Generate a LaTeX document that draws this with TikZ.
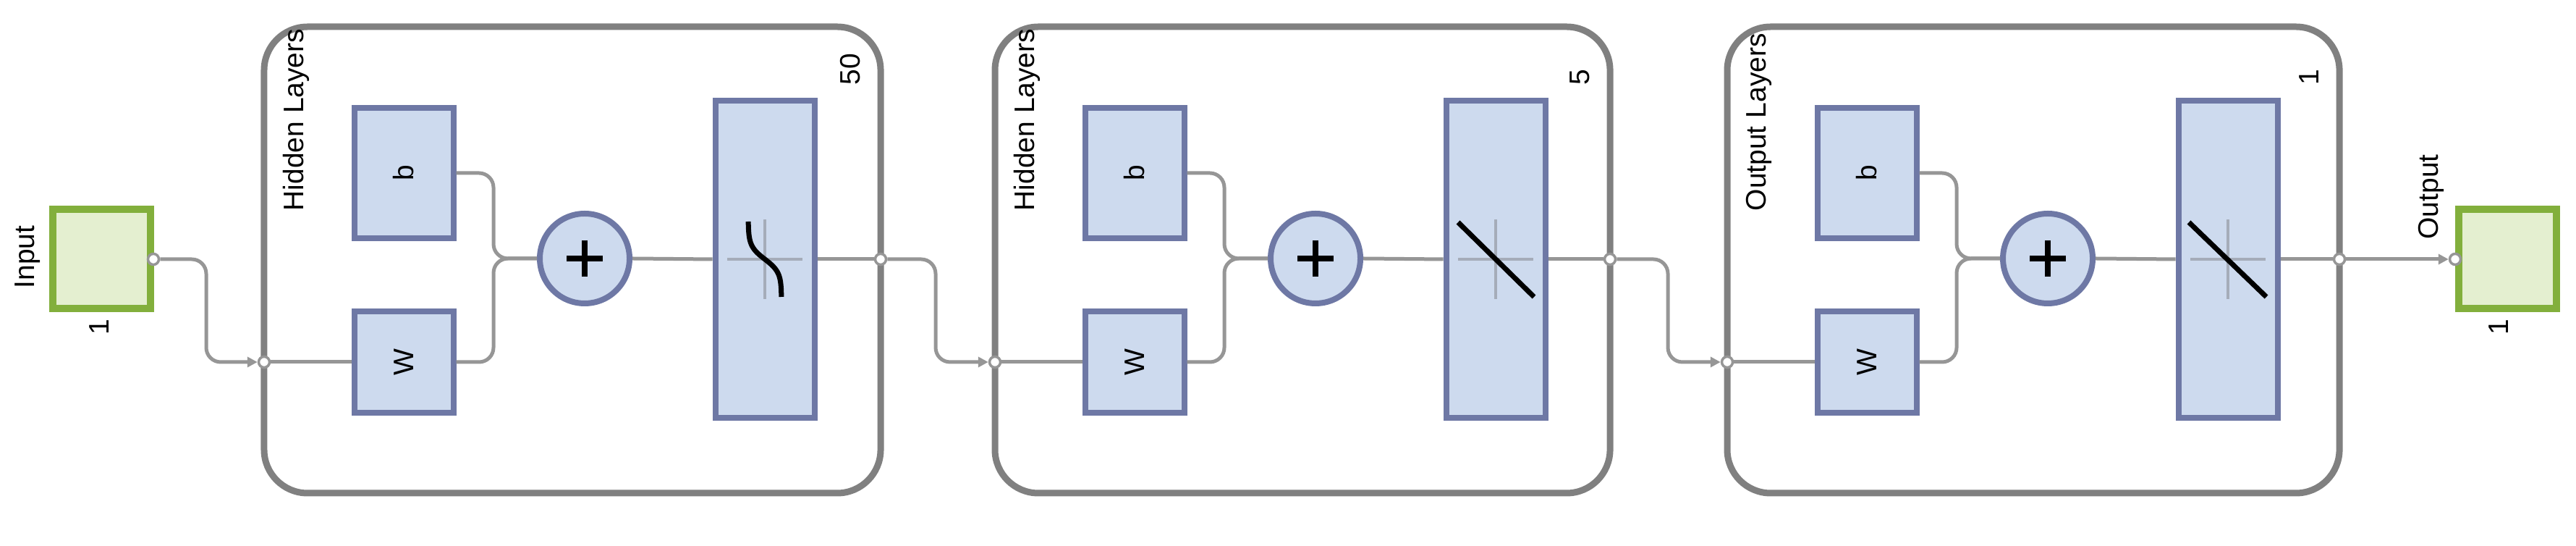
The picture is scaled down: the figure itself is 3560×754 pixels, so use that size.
\documentclass[tikz,border=0pt]{standalone}
\usepackage{fontspec}
\setmainfont{Liberation Sans}
\usepackage{graphicx}
\usetikzlibrary{arrows.meta,calc}
\definecolor{laygray}{RGB}{128,128,128}
\definecolor{conngray}{RGB}{150,150,150}
\definecolor{boxblue}{RGB}{110,120,165}
\definecolor{fillblue}{RGB}{205,218,238}
\definecolor{grnborder}{RGB}{130,175,60}
\definecolor{grnfill}{RGB}{228,239,208}
\definecolor{axisgray}{RGB}{165,172,185}
\begin{document}
\begin{tikzpicture}[x=0.1mm,y=-0.1mm,
  txt/.style={font=\fontsize{11.1}{13}\selectfont, inner sep=0pt},
  layerbox/.style={draw=laygray, line width=0.9mm, rounded corners=6mm, inner sep=0pt, fill=white},
  bluebox/.style={draw=boxblue, fill=fillblue, line width=0.8mm, inner sep=0pt, font=\fontsize{11.1}{13}\selectfont},
  sumnode/.style={circle, draw=boxblue, fill=fillblue, line width=0.8mm, inner sep=0pt, minimum size=12.4mm},
  iobox/.style={draw=grnborder, fill=grnfill, line width=1mm, inner sep=0pt, minimum width=13.5mm, minimum height=13.7mm},
  portc/.style={circle, draw=conngray, fill=white, line width=0.35mm, inner sep=0pt, minimum size=1.5mm},
  conn/.style={draw=conngray, line width=0.5mm, rounded corners=2mm},
  arrowend/.style={-{Triangle[length=1.4mm,width=1.4mm]}},
  plusln/.style={draw=black, line width=0.8mm},
  axisln/.style={draw=axisgray, line width=0.4mm},
  tfline/.style={draw=black, line width=0.7mm},
]
\useasboundingbox (0,0) rectangle (3560,754);

% input block
\node[iobox] (inbox) at (140,358) {};
\node[txt, rotate=90] (inlbl) at (38,355) {Input};
\node[txt, rotate=90] (innum) at (137,452) {1};
\node[portc] (pin0) at (212,358) {};

% layers
\foreach \k/\xl/\xr/\lname/\lnum in {1/365/1217/Hidden Layers/50, 2/1375/2225/Hidden Layers/5, 3/2387/3233/Output Layers/1} {
  \pgfmathsetmacro\lw{(\xr-\xl)*0.1}
  \node[layerbox, minimum width=\lw mm, minimum height=64.4mm] (layer\k) at ({(\xl+\xr)/2},359) {};
  \node[txt, rotate=90, anchor=west] (lname\k) at ({\xl+44},292) {\lname};
  \node[txt, rotate=90, anchor=west] (lnum\k) at ({\xr-42},118) {\lnum};
  \node[bluebox, minimum width=13.7mm, minimum height=18mm] (b\k) at ({\xl+193},239) {\rotatebox{90}{b}};
  \node[bluebox, minimum width=13.7mm, minimum height=14mm] (W\k) at ({\xl+193},500) {\rotatebox{90}{W}};
  \node[sumnode] (sum\k) at ({\xl+443},357) {};
  \node[bluebox, minimum width=13.7mm, minimum height=43.8mm] (f\k) at ({\xl+692},358) {};
  \coordinate (j\k) at ({\xl+317},357);
  \node[portc] (pin\k) at (\xl,500) {};
  \node[portc] (pout\k) at (\xr,358) {};
  \draw[conn] (pin\k.east) -- (W\k.west);
  \draw[conn] (W\k.east) -| (j\k) -- (sum\k.west);
  \draw[conn] (b\k.east) -| (j\k) -- (sum\k.west);
  \draw[conn] (sum\k.east) -- (f\k.west);
  \draw[conn] (f\k.east) -- (pout\k.west);
  \draw[plusln] ({\xl+443-25},357) -- ({\xl+443+25},357);
  \draw[plusln] ({\xl+443},332) -- ({\xl+443},382);
  \draw[axisln] ({\xl+692-52},358) -- ({\xl+692+52},358);
  \draw[axisln] ({\xl+692},303) -- ({\xl+692},413);
}

% transfer functions
\draw[tfline] plot[domain=-52:52, samples=60] ({1057+23*tanh(\x/18)},{358+\x});
\draw[tfline] (2015,307) -- (2120,410);
\draw[tfline] (3025,307) -- (3132,410);

% output block
\node[iobox] (outbox) at (3465,358) {};
\node[txt, rotate=90] (outlbl) at (3360,272) {Output};
\node[txt, rotate=90] (outnum) at (3453,452) {1};
\node[portc] (pend) at (3393,358) {};

% inter-layer connectors
\coordinate (k0) at (285,430);
\coordinate (k1) at (1293,430);
\coordinate (k2) at (2305,430);
\draw[conn, arrowend] (pin0.east) -| (k0) |- (pin1.west);
\draw[conn, arrowend] (pout1.east) -| (k1) |- (pin2.west);
\draw[conn, arrowend] (pout2.east) -| (k2) |- (pin3.west);
\draw[conn, arrowend] (pout3.east) -- (pend.west);
\end{tikzpicture}
\end{document}
